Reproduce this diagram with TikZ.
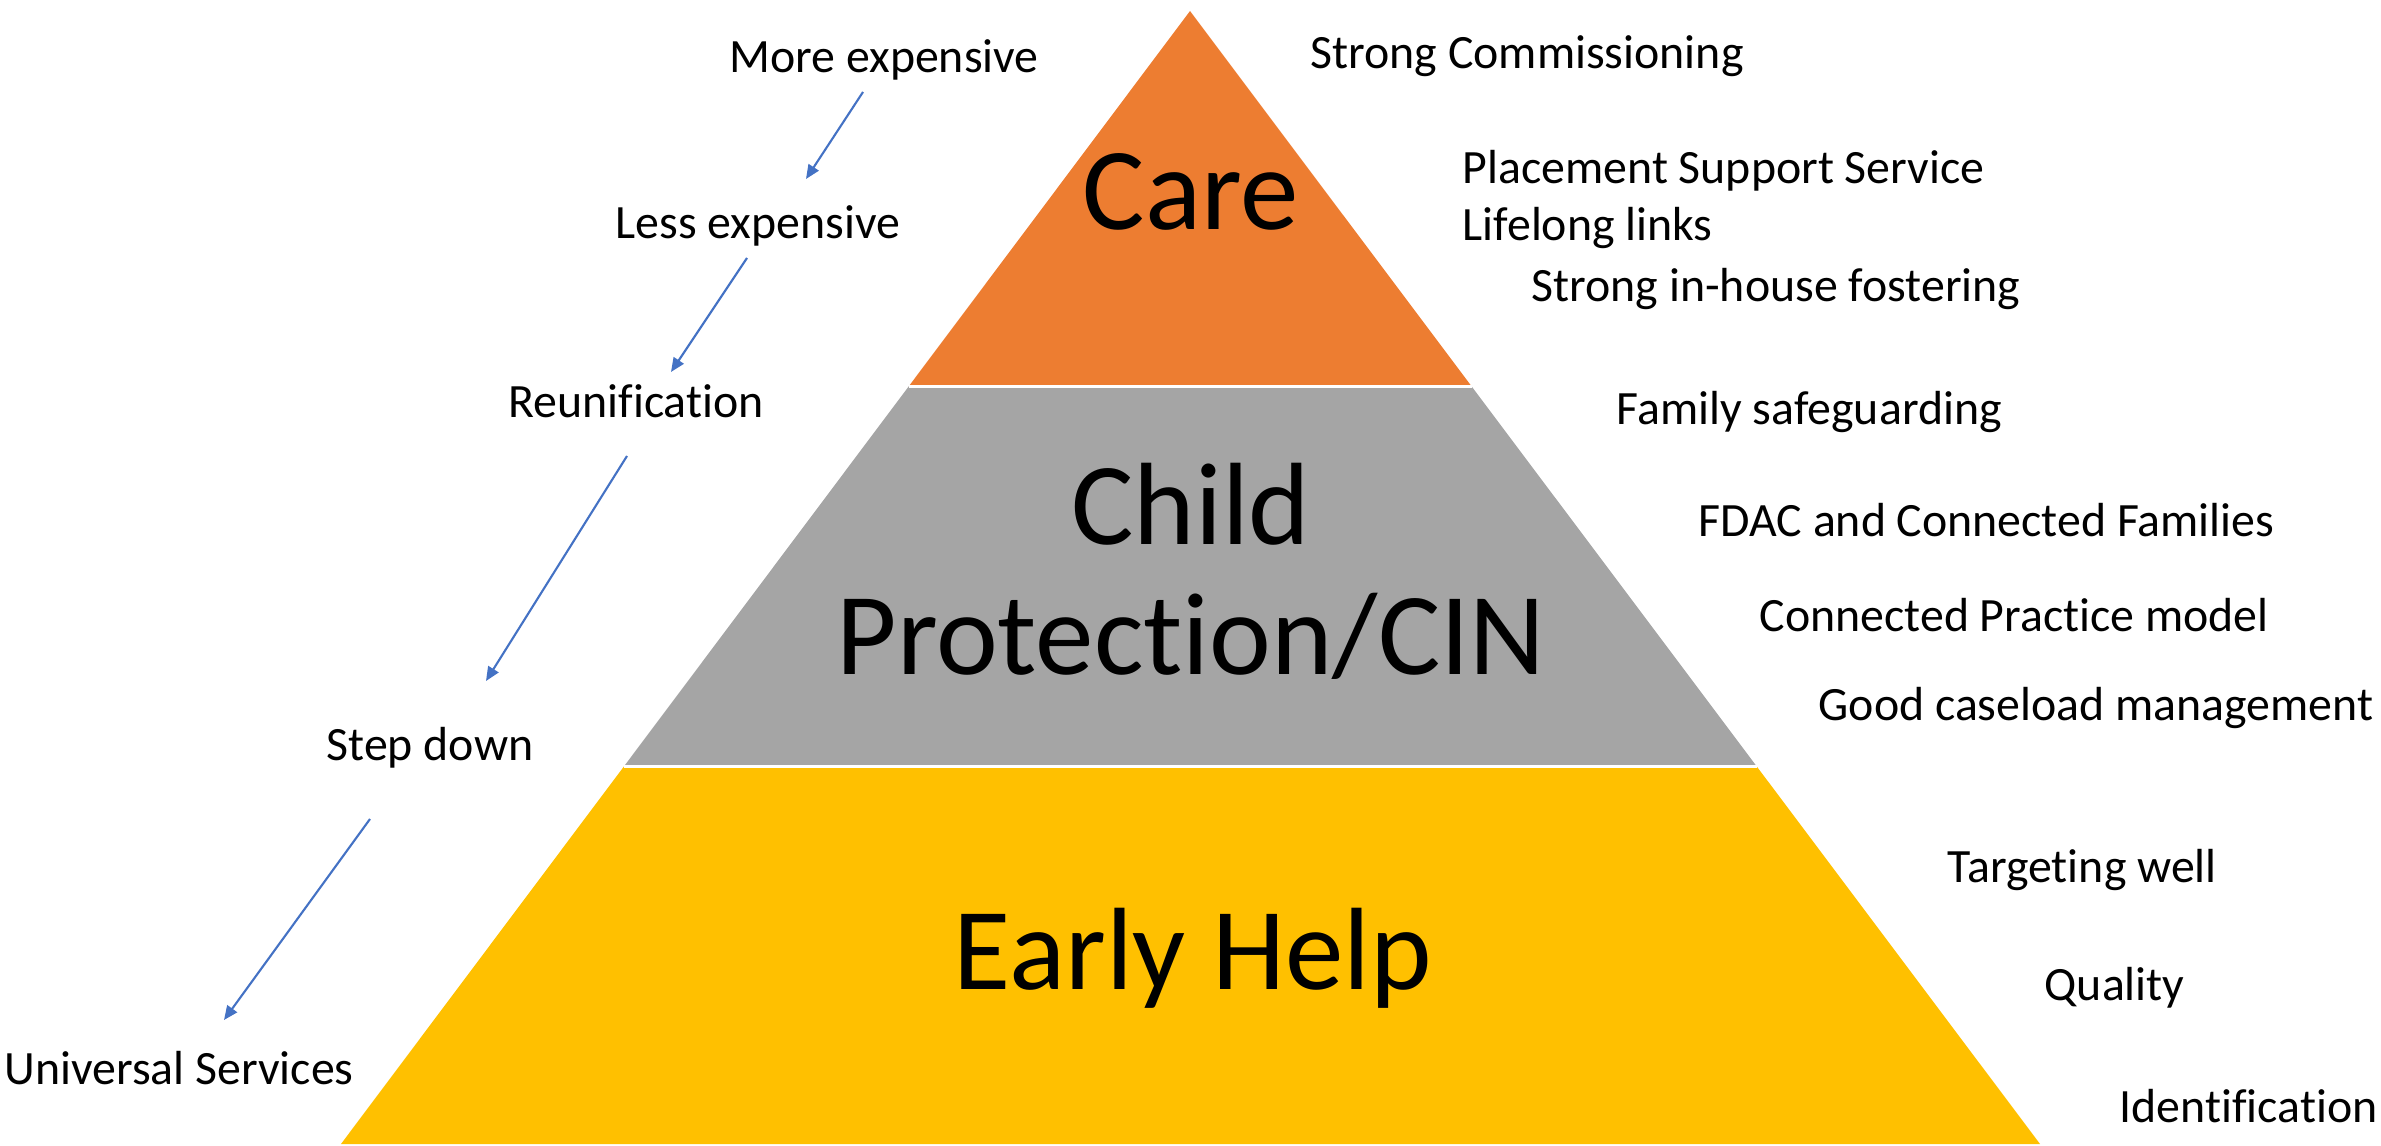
\documentclass[tikz,border=0pt]{standalone}
\usepackage{fontspec}
\setmainfont{Carlito}[Ligatures=NoCommon]
\usepackage{tikz}
\usetikzlibrary{positioning, arrows.meta, calc}
\definecolor{careorange}{HTML}{ED7D31}
\definecolor{cpgrey}{HTML}{A5A5A5}
\definecolor{ehgold}{HTML}{FFC000}
\definecolor{arblue}{HTML}{4472C4}
\tikzstyle{tr}=[%
      inner sep=0pt, anchor=base, align=center,
      font=\fontsize{33.3pt}{36.7pt}\selectfont
]
\tikzstyle{st}=[%
      inner sep=0pt, anchor=base,
      font=\fontsize{13.6pt}{15pt}\selectfont
]
\tikzstyle{nt}=[%
      inner sep=0pt, anchor=base west,
      font=\fontsize{13.6pt}{15pt}\selectfont
]
\tikzstyle{ar}=[%
      draw=arblue, line width=0.6pt, -{Triangle[length=4pt,width=3.4pt]}
]
\tikzstyle{gap}=[draw=white, line width=0.9pt]

\begin{document}
\begin{tikzpicture}[x=0.01cm, y=-0.01cm]
    \useasboundingbox (0,0) rectangle (2381,1146);

    % pyramid
    \coordinate (top) at (1190,11);
    \coordinate (bl)  at (341,1144);
    \coordinate (br)  at (2040,1144);
    \coordinate (l1)  at ($(top)!0.3314!(bl)$);
    \coordinate (r1)  at ($(top)!0.3314!(br)$);
    \coordinate (l2)  at ($(top)!0.6668!(bl)$);
    \coordinate (r2)  at ($(top)!0.6668!(br)$);

    \fill[careorange] (top) -- (l1) -- (r1) -- cycle;
    \fill[cpgrey]     (l1) -- (l2) -- (r2) -- (r1) -- cycle;
    \fill[ehgold]     (l2) -- (bl) -- (br) -- (r2) -- cycle;
    \draw[gap] (l1) -- (r1);
    \draw[gap] (l2) -- (r2);

    \node[tr] (care) at (1191,230) {Care};
    \node[tr] (cp)   at (1191,674) {Child\\Protection/CIN};
    \node[tr] (eh)   at (1193,989) {Early Help};

    % cost steps
    \node[st] (more) at (884,73)   {More expensive};
    \node[st] (less) at (758,239)  {Less expensive};
    \node[st] (reun) at (636,418)  {Reunification};
    \node[st] (down) at (430,760)  {Step down};
    \node[st] (univ) at (179,1084) {Universal Services};

    \coordinate (m1) at (863,92);  \coordinate (m2) at (806,179);
    \coordinate (s1) at (747,258); \coordinate (s2) at (671,372);
    \coordinate (u1) at (627,456); \coordinate (u2) at (486,681);
    \coordinate (d1) at (370,819); \coordinate (d2) at (224,1020);

    \draw[ar] (m1) -- (m2);
    \draw[ar] (s1) -- (s2);
    \draw[ar] (u1) -- (u2);
    \draw[ar] (d1) -- (d2);

    % what works
    \node[nt] (comm)  at (1310,69)   {Strong Commissioning};
    \node[nt] (pss)   at (1462,184)  {Placement Support Service};
    \node[nt] (links) at (1462,241)  {Lifelong links};
    \node[nt] (fost)  at (1531,302)  {Strong in-house fostering};
    \node[nt] (safe)  at (1616,425)  {Family safeguarding};
    \node[nt] (fdac)  at (1698,537)  {FDAC and Connected Families};
    \node[nt] (cpm)   at (1759,632)  {Connected Practice model};
    \node[nt] (case)  at (1818,720)  {Good caseload management};
    \node[nt] (targ)  at (1947,882)  {Targeting well};
    \node[nt] (qual)  at (2044,1000) {Quality};
    \node[nt] (ident) at (2119,1122) {Identification};
\end{tikzpicture}
\end{document}
